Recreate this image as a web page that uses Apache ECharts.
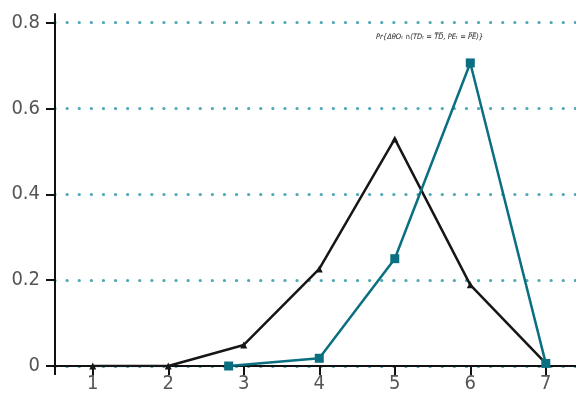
<!DOCTYPE html>
<html>
<head>
<meta charset="utf-8">
<script src="https://cdn.jsdelivr.net/npm/echarts@6/dist/echarts.min.js"></script>
<style>
  html, body { margin: 0; padding: 0; background: #fff; }
  #chart { width: 576px; height: 395px; }
</style>
</head>
<body>
<div id="chart"></div>
<script>
// Probability distributions over the number of periods
const xTicks = [1, 2, 3, 4, 5, 6, 7];
const yTicks = [0, 0.2, 0.4, 0.6, 0.8];

const blackX = [1, 2, 3, 4, 5, 6, 7];
const blackY = [0, 0, 0.049, 0.226, 0.529, 0.189, 0.006];

const tealX = [2.8, 4, 5, 6, 7];
const tealY = [0, 0.018, 0.25, 0.706, 0.006];

const formulaText = 'Pr{ΔθO\u209C ∩(TD\u209C = T\u0305D\u0305, PE\u209C = P\u0305E\u0305)}';

const pairs = (xs, ys) => xs.map((x, i) => [x, ys[i]]);

const chart = echarts.init(document.getElementById('chart'), null, { renderer: 'canvas' });
const labelFont = {
  fontFamily: '"Liberation Sans Narrow", "DejaVu Sans Condensed", "Open Sans"',
  fontSize: 20,
  color: '#555'
};

chart.setOption({
  animation: false,
  grid: { left: 55, right: 0, top: 14, bottom: 29 },
  xAxis: {
    type: 'value',
    min: 0.5,
    max: 7.4,
    axisLine: { show: true, onZero: false, lineStyle: { color: '#111', width: 2 } },
    axisTick: { show: true, length: 9, customValues: [0.5].concat(xTicks), lineStyle: { color: '#111', width: 2 } },
    axisLabel: Object.assign({ customValues: xTicks, margin: 8 }, labelFont),
    splitLine: { show: false }
  },
  yAxis: {
    type: 'value',
    min: 0,
    max: 0.82,
    axisLine: { show: true, lineStyle: { color: '#111', width: 2 } },
    axisTick: { show: true, length: 9, customValues: yTicks, lineStyle: { color: '#111', width: 2 } },
    axisLabel: Object.assign({ customValues: yTicks, margin: 15, formatter: v => String(v) }, labelFont),
    splitLine: {
      show: true,
      lineStyle: { color: '#4fa9b5', width: 3.2, type: [0.1, 12], cap: 'round' }
    }
  },
  graphic: [{
    type: 'text',
    left: 376,
    top: 33,
    style: {
      text: formulaText,
      fontFamily: '"DejaVu Sans Condensed", "DejaVu Sans"',
      fontSize: 7.5,
      fontStyle: 'italic',
      fill: '#222'
    }
  }],
  series: [
    {
      type: 'line',
      data: pairs(blackX, blackY),
      symbol: 'triangle',
      symbolSize: 7,
      lineStyle: { color: '#161616', width: 2.5 },
      itemStyle: { color: '#161616' },
      z: 3
    },
    {
      type: 'line',
      data: pairs(tealX, tealY),
      symbol: 'rect',
      symbolSize: 9,
      lineStyle: { color: '#0a6f80', width: 2.5 },
      itemStyle: { color: '#0a6f80' },
      z: 4
    }
  ]
});
</script>
</body>
</html>
